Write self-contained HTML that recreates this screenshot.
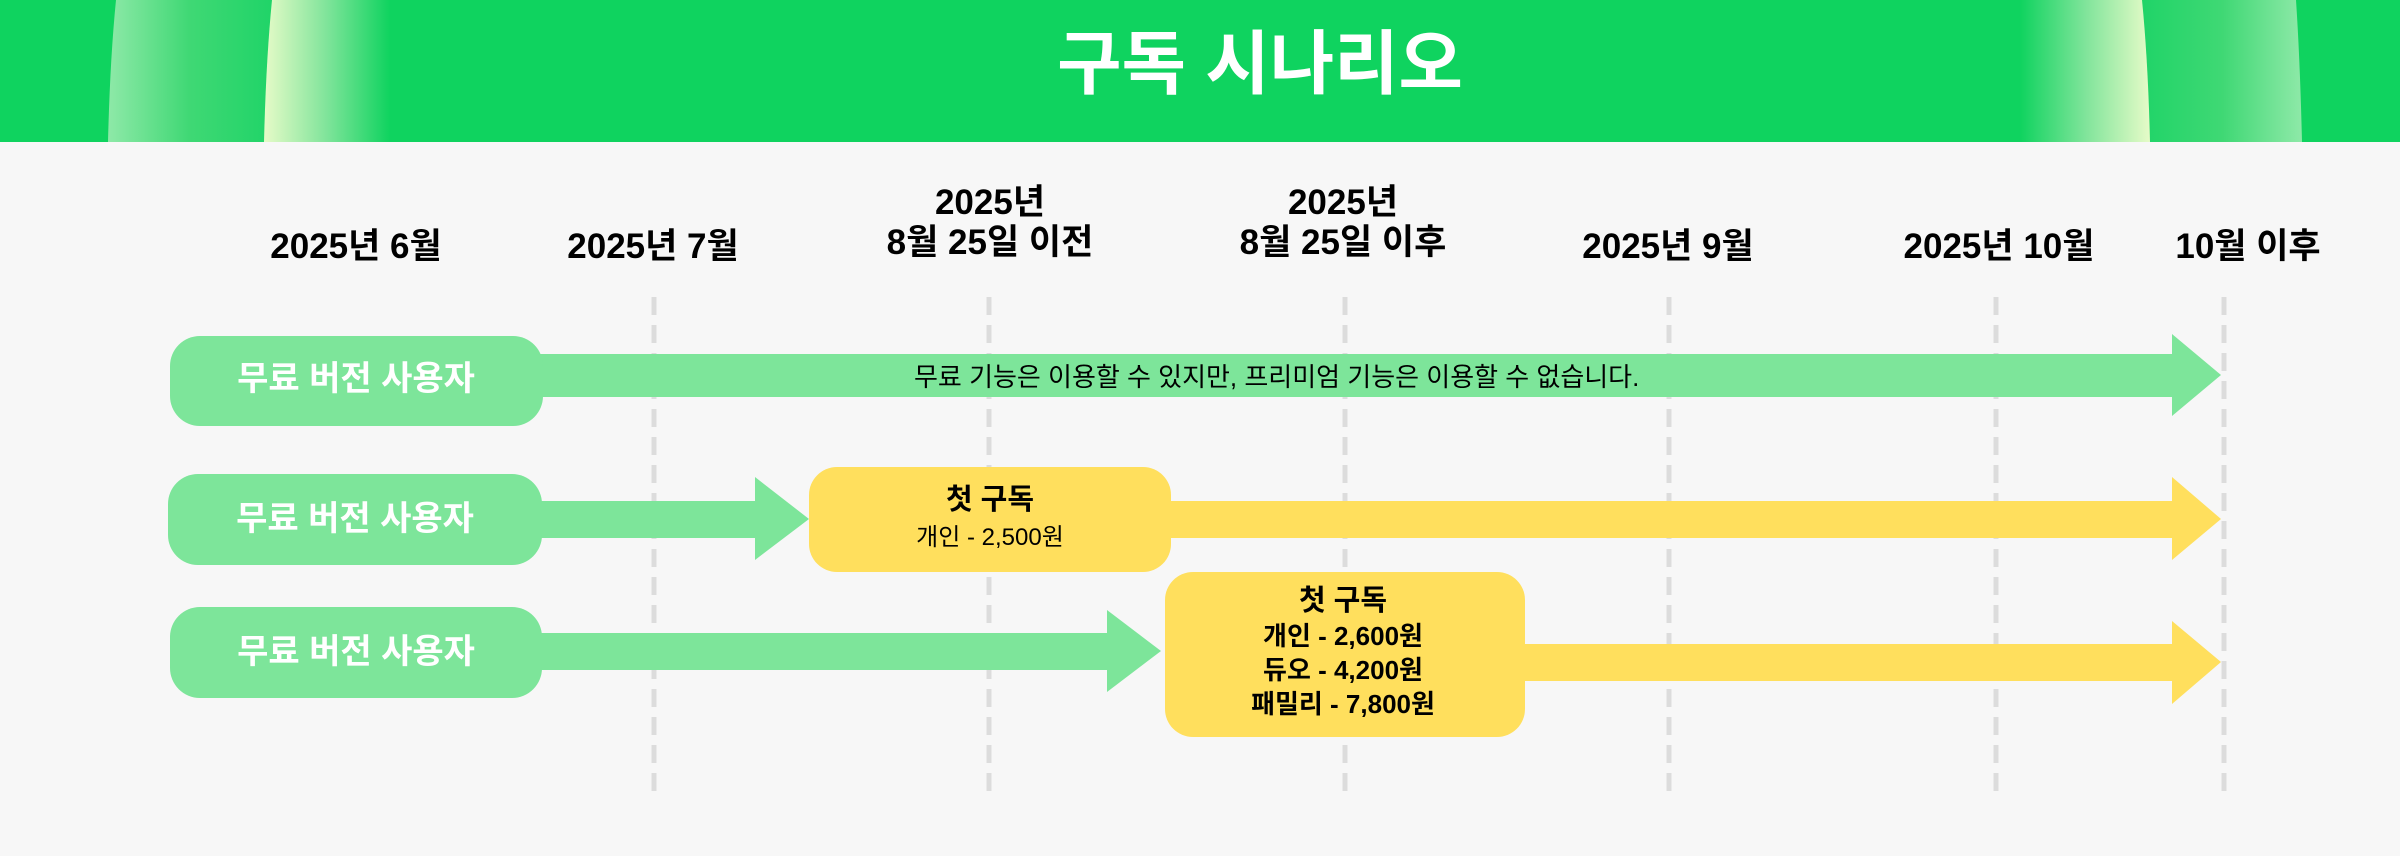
<!DOCTYPE html>
<html><head><meta charset="utf-8"><style>
html,body{margin:0;padding:0;background:#f7f7f7;}
svg{display:block;font-family:"Liberation Sans","Noto Sans CJK KR",sans-serif;}
</style></head><body>
<svg width="2400" height="856" viewBox="0 0 2400 856" xmlns="http://www.w3.org/2000/svg">
<defs>
<linearGradient id="gl" x1="0" x2="1" y1="0" y2="0">
<stop offset="0" stop-color="#e6fbc8"/><stop offset="0.5" stop-color="#7fe49a"/><stop offset="1" stop-color="#0fd35f"/></linearGradient>
<linearGradient id="gr" x1="1" x2="0" y1="0" y2="0">
<stop offset="0" stop-color="#e6fbc8"/><stop offset="0.5" stop-color="#7fe49a"/><stop offset="1" stop-color="#0fd35f"/></linearGradient>
<linearGradient id="bl" x1="0" x2="1" y1="0" y2="0">
<stop offset="0" stop-color="#8ee9a8"/><stop offset="0.5" stop-color="#3fd874"/><stop offset="1" stop-color="#20d468"/></linearGradient>
<linearGradient id="br" x1="1" x2="0" y1="0" y2="0">
<stop offset="0" stop-color="#8ee9a8"/><stop offset="0.5" stop-color="#3fd874"/><stop offset="1" stop-color="#20d468"/></linearGradient>
</defs>
<rect width="2400" height="856" fill="#f7f7f7"/>
<rect width="2400" height="142" fill="#0fd35f"/>
<path d="M116 0 Q110 60 108 142 L264 142 Q266 60 272 0 Z" fill="url(#bl)"/>
<path d="M272 0 Q266 60 264 142 L390 142 L390 0 Z" fill="url(#gl)"/>
<path d="M2296 0 Q2300 60 2302 142 L2150 142 Q2148 60 2142 0 Z" fill="url(#br)"/>
<path d="M2142 0 Q2148 60 2150 142 L2020 142 L2020 0 Z" fill="url(#gr)"/>
<text x="1260" y="88" text-anchor="middle" font-size="70" font-weight="bold" fill="#fff">구독 시나리오</text>

<g font-size="35" font-weight="bold" fill="#000" text-anchor="middle">
<text x="356" y="258">2025년 6월</text>
<text x="653" y="258">2025년 7월</text>
<text x="990" y="214">2025년</text>
<text x="990" y="254">8월 25일 이전</text>
<text x="1343" y="214">2025년</text>
<text x="1343" y="254">8월 25일 이후</text>
<text x="1668" y="258">2025년 9월</text>
<text x="1999" y="258">2025년 10월</text>
<text x="2248" y="258">10월 이후</text>
</g>

<g stroke="#dcdcdc" stroke-width="5" stroke-dasharray="18,10">
<line x1="654" y1="297" x2="654" y2="794"/>
<line x1="989" y1="297" x2="989" y2="794"/>
<line x1="1345" y1="297" x2="1345" y2="794"/>
<line x1="1669" y1="297" x2="1669" y2="794"/>
<line x1="1996" y1="297" x2="1996" y2="794"/>
<line x1="2224" y1="297" x2="2224" y2="794"/>
</g>

<!-- Row 1 -->
<rect x="520" y="354" width="1655" height="43" fill="#7de59a"/>
<polygon points="2172,334 2221,375 2172,416" fill="#7de59a"/>
<rect x="170" y="336" width="373" height="90" rx="30" fill="#7de59a"/>
<text x="356" y="390" text-anchor="middle" font-size="34" font-weight="bold" fill="#fff">무료 버전 사용자</text>
<text x="914" y="386" font-size="26" fill="#000">무료 기능은 이용할 수 있지만, 프리미엄 기능은 이용할 수 없습니다.</text>

<!-- Row 2 -->
<rect x="520" y="501" width="240" height="37" fill="#7de59a"/>
<polygon points="755,477 809,519 755,560" fill="#7de59a"/>
<rect x="168" y="474" width="374" height="91" rx="30" fill="#7de59a"/>
<text x="355" y="530" text-anchor="middle" font-size="34" font-weight="bold" fill="#fff">무료 버전 사용자</text>
<rect x="1150" y="501" width="1025" height="37" fill="#ffdf5d"/>
<polygon points="2172,477 2221,519 2172,560" fill="#ffdf5d"/>
<rect x="809" y="467" width="362" height="105" rx="28" fill="#ffdf5d"/>
<text x="990" y="509" text-anchor="middle" font-size="29" font-weight="bold" fill="#000">첫 구독</text>
<text x="990" y="545" text-anchor="middle" font-size="24" fill="#000">개인 - 2,500원</text>

<!-- Row 3 -->
<rect x="520" y="633" width="592" height="37" fill="#7de59a"/>
<polygon points="1107,610 1161,651 1107,692" fill="#7de59a"/>
<rect x="170" y="607" width="372" height="91" rx="30" fill="#7de59a"/>
<text x="356" y="663" text-anchor="middle" font-size="34" font-weight="bold" fill="#fff">무료 버전 사용자</text>
<rect x="1500" y="644" width="675" height="37" fill="#ffdf5d"/>
<polygon points="2172,621 2221,662 2172,704" fill="#ffdf5d"/>
<rect x="1165" y="572" width="360" height="165" rx="28" fill="#ffdf5d"/>
<g text-anchor="middle" font-weight="bold" fill="#000">
<text x="1343" y="610" font-size="29">첫 구독</text>
<text x="1343" y="645" font-size="26">개인 - 2,600원</text>
<text x="1343" y="679" font-size="26">듀오 - 4,200원</text>
<text x="1343" y="713" font-size="26">패밀리 - 7,800원</text>
</g>
</svg>
</body></html>
